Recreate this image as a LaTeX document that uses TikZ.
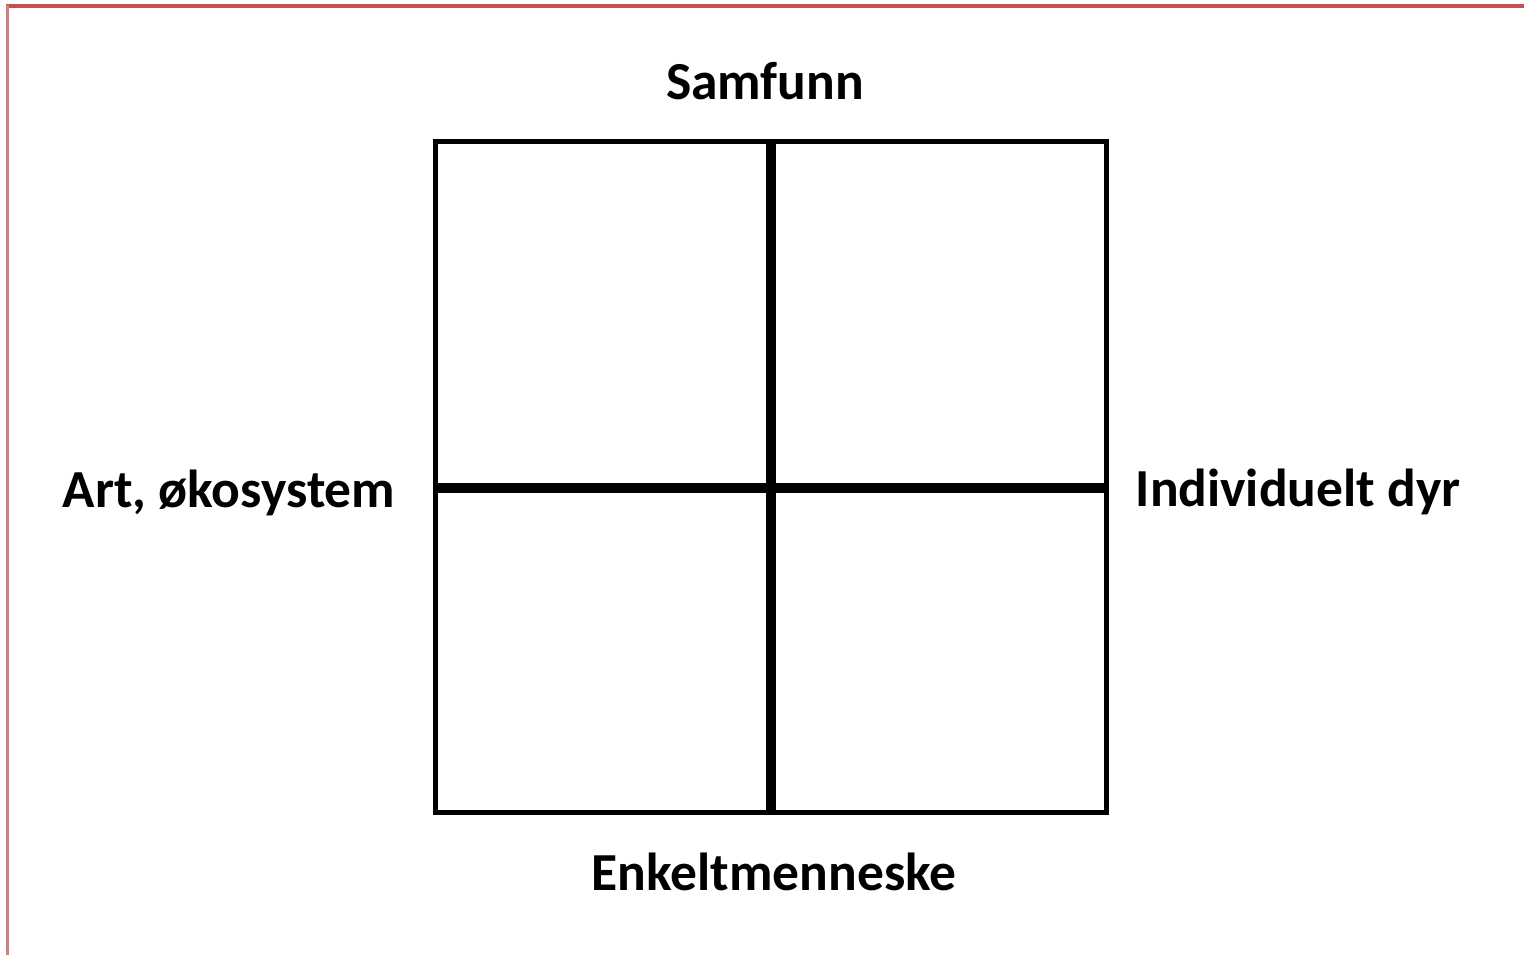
\documentclass[tikz,border=0pt]{standalone}
\usepackage{fontspec}
\setmainfont{Carlito}
\definecolor{frameTop}{RGB}{198,80,78}
\definecolor{frameLeft}{RGB}{210,125,122}
\begin{document}
\begin{tikzpicture}[x=1pt,y=-1pt,
  lbl/.style={font=\fontsize{53.5}{64}\selectfont\bfseries, text=black, inner sep=0pt, anchor=base},
  outer/.style={line width=5pt, black},
  inner/.style={line width=10pt, black}]
\useasboundingbox (0,0) rectangle (1524,955);
\fill[white] (0,0) rectangle (1524,955);
% frame of the page
\coordinate (ftl) at (6,6);
\coordinate (ftr) at (1524,6);
\coordinate (flt) at (7,5);
\coordinate (fbl) at (7,955);
\draw[frameTop, line width=3.5pt] (ftl) -- (ftr);
\draw[frameLeft, line width=3pt] (flt) -- (fbl);
% grid
\coordinate (tl) at (435,142);
\coordinate (br) at (1106,812);
\coordinate (vt) at (771,142);
\coordinate (vb) at (771,812);
\coordinate (hl) at (435,488);
\coordinate (hr) at (1106,488);
\draw[inner] (vt) -- (vb);
\draw[inner] (hl) -- (hr);
\draw[outer] (tl) rectangle (br);
% labels
\node[lbl] (top) at (765,100) {Samfunn};
\node[lbl] (left) at (229,507) {Art, økosystem};
\node[lbl] (right) at (1298,506) {Individuelt dyr};
\node[lbl] (bottom) at (774,890) {Enkeltmenneske};
\end{tikzpicture}
\end{document}
